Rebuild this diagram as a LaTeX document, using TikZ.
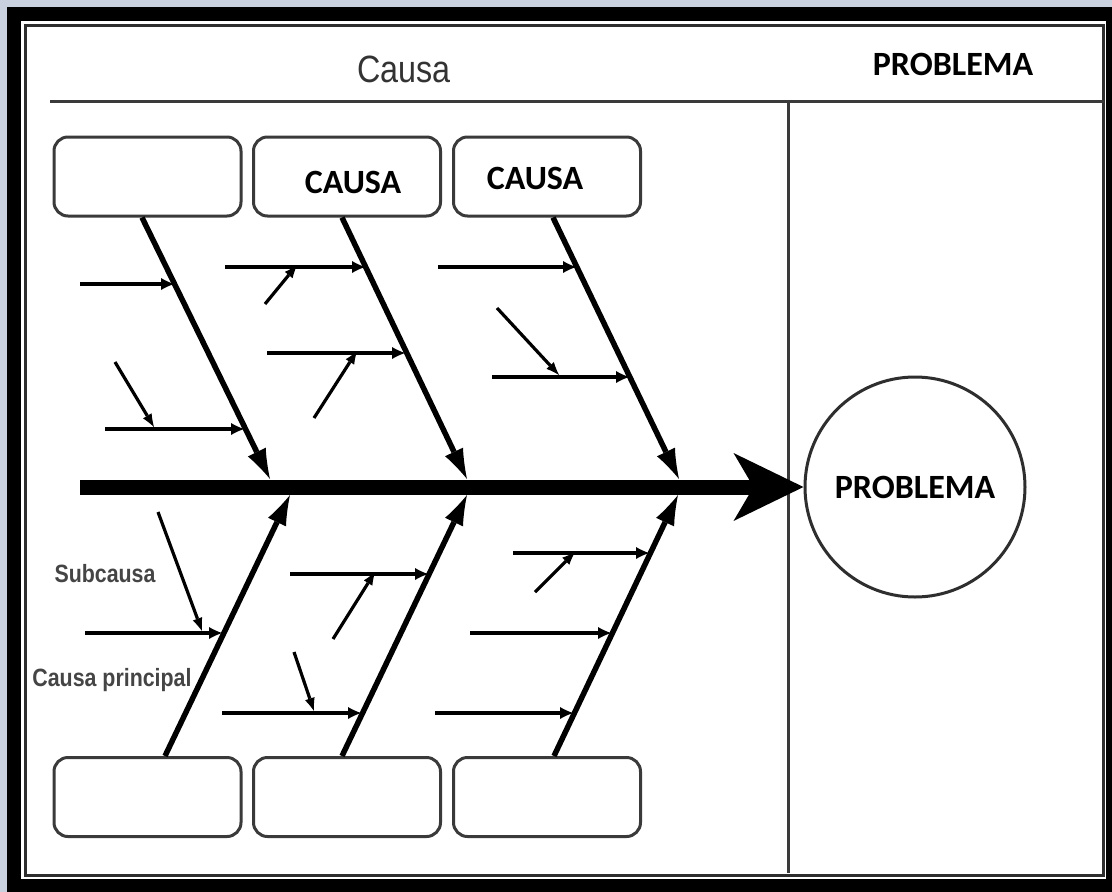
\documentclass[tikz,border=0pt]{standalone}
\usepackage{fontspec}
\setmainfont{Liberation Sans}
\newfontfamily\calb{Carlito}
\newfontfamily\narrowsans{Liberation Sans}[FakeStretch=0.85]
\newfontfamily\narrowbold{Liberation Sans Bold}[FakeStretch=0.855]
\usetikzlibrary{arrows.meta}
\definecolor{bgblue}{HTML}{C9D1DE}
\definecolor{framegray}{HTML}{2E2E2E}
\definecolor{boxgray}{HTML}{3A3A3A}
\definecolor{notegray}{HTML}{333333}
\definecolor{notegray2}{HTML}{454545}
\begin{document}
\begin{tikzpicture}[x=1pt,y=-1pt,
  box/.style={draw=boxgray, line width=3pt, rounded corners=14pt, minimum width=187pt, minimum height=79pt, inner sep=0pt, fill=white},
  bone/.style={line width=5.5pt, -{Latex[length=30pt,width=20pt,line width=0pt]}},
  subarr/.style={line width=4.5pt, -{Latex[length=13pt,width=12pt,line width=0pt]}},
  subsub/.style={line width=3.2pt, -{Latex[length=13pt,width=10pt,line width=0pt]}},
  lbl/.style={font=\calb\bfseries\fontsize{34}{40}\selectfont, text=black},
  hdr/.style={font=\narrowsans\fontsize{38}{44}\selectfont, text=notegray},
  note/.style={font=\narrowbold\fontsize{25}{30}\selectfont, text=notegray2, inner sep=0pt},
  rule/.style={draw=boxgray, line width=3pt}
]
\useasboundingbox (0,0) rectangle (1112,892);
% frame
\fill[bgblue] (0,0) rectangle (1112,892);
\fill[black] (7,7) rectangle (1112,892);
\fill[white] (21,21) rectangle (1106,879);
\draw[framegray, line width=3pt] (25,25) rectangle (1103.5,875);
% header
\draw[rule] (50,101) -- (1103.5,101);
\draw[rule] (788,101) -- (788,873);
\node[hdr] (causahdr) at (404,69) {Causa};
\node[lbl] (probhdr) at (953,64) {PROBLEMA};
% boxes
\node[box] (t1) at (147.5,176.5) {};
\node[box] (t2) at (347,176.5) {};
\node[box] (t3) at (547,176.5) {};
\node[box] (b1) at (147.5,797) {};
\node[box] (b2) at (347,797) {};
\node[box] (b3) at (547,797) {};
\node[lbl] (c2) at (353,182) {CAUSA};
\node[lbl] (c3) at (535,178) {CAUSA};
% problem
\node[circle, draw=framegray, line width=3pt, minimum size=220pt, inner sep=0pt, lbl] (prob) at (915,487) {PROBLEMA};
% spine
\coordinate (tail) at (80,487);
\draw[line width=15pt, -{Stealth[length=70pt,width=68pt,inset=20pt,line width=0pt]}] (tail) -- (prob.west);
% bone ends on the spine
\coordinate (j1) at (270,479);
\coordinate (j2) at (467,479);
\coordinate (j3) at (679,479);
\coordinate (j4) at (290,495);
\coordinate (j5) at (467,495);
\coordinate (j6) at (678,495);
\draw[bone] ([xshift=-5.5pt]t1.south) -- (j1);
\draw[bone] ([xshift=-5pt]t2.south) -- (j2);
\draw[bone] ([xshift=6pt]t3.south) -- (j3);
\draw[bone] ([xshift=17.5pt]b1.north) -- (j4);
\draw[bone] ([xshift=-5pt]b2.north) -- (j5);
\draw[bone] ([xshift=7pt]b3.north) -- (j6);
% horizontal sub-causes
\coordinate (h1a) at (80,284);   \coordinate (h1b) at (174,284);
\coordinate (h2a) at (105,429);  \coordinate (h2b) at (244,429);
\coordinate (h3a) at (225,267);  \coordinate (h3b) at (365,267);
\coordinate (h4a) at (267,353);  \coordinate (h4b) at (405,353);
\coordinate (h5a) at (438,267);  \coordinate (h5b) at (576,267);
\coordinate (h6a) at (492,377);  \coordinate (h6b) at (629,377);
\coordinate (h7a) at (85,633);   \coordinate (h7b) at (222,633);
\coordinate (h8a) at (290,574);  \coordinate (h8b) at (428,574);
\coordinate (h9a) at (222,713);  \coordinate (h9b) at (361,713);
\coordinate (h10a) at (513,553); \coordinate (h10b) at (649,553);
\coordinate (h11a) at (470,633); \coordinate (h11b) at (611,633);
\coordinate (h12a) at (435,713); \coordinate (h12b) at (573,713);
\foreach \i in {1,...,12} {\draw[subarr] (h\i a) -- (h\i b);}
% slanted sub-sub-causes
\coordinate (s1a) at (115,362); \coordinate (s1b) at (154,427);
\coordinate (s2a) at (265,304); \coordinate (s2b) at (297,265);
\coordinate (s3a) at (314,418); \coordinate (s3b) at (357,351);
\coordinate (s4a) at (497,308); \coordinate (s4b) at (559,375);
\coordinate (s5a) at (158,512); \coordinate (s5b) at (202,631);
\coordinate (s6a) at (333,639); \coordinate (s6b) at (375,572);
\coordinate (s7a) at (294,652); \coordinate (s7b) at (314,711);
\coordinate (s8a) at (535,592); \coordinate (s8b) at (575,552);
\foreach \i in {1,...,8} {\draw[subsub] (s\i a) -- (s\i b);}
% notes
\node[note] (subc) at (105,574) {Subcausa};
\node[note] (cprin) at (112,680) {Causa principal};
\end{tikzpicture}
\end{document}
